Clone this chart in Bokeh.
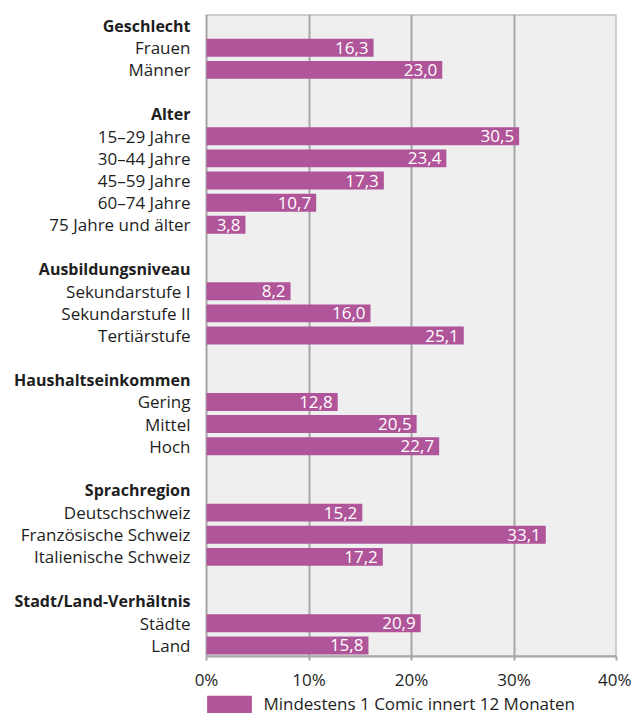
from bokeh.plotting import figure
from bokeh.layouts import column
from bokeh.models import Range1d, FixedTicker, ColumnDataSource, Legend, LegendItem
from bokeh.core.properties import value
from bokeh.embed import file_html
from bokeh.resources import INLINE

# ---- data ----
group_titles = ["Geschlecht", "Alter", "Ausbildungsniveau", "Haushaltseinkommen",
                "Sprachregion", "Stadt/Land-Verhältnis"]
geschlecht = ["Frauen", "Männer"]
geschlecht_vals = [16.3, 23.0]
alter = ["15–29 Jahre", "30–44 Jahre", "45–59 Jahre", "60–74 Jahre", "75 Jahre und älter"]
alter_vals = [30.5, 23.4, 17.3, 10.7, 3.8]
ausbildung = ["Sekundarstufe I", "Sekundarstufe II", "Tertiärstufe"]
ausbildung_vals = [8.2, 16.0, 25.1]
einkommen = ["Gering", "Mittel", "Hoch"]
einkommen_vals = [12.8, 20.5, 22.7]
sprachregion = ["Deutschschweiz", "Französische Schweiz", "Italienische Schweiz"]
sprachregion_vals = [15.2, 33.1, 17.2]
stadtland = ["Städte", "Land"]
stadtland_vals = [20.9, 15.8]
x_ticks = [0, 10, 20, 30, 40]
x_tick_labels = ["0%", "10%", "20%", "30%", "40%"]
series_name = "Mindestens 1 Comic innert 12 Monaten"

FONT = "Open Sans"
BAR = "#b05599"
GRID = "#a6a6a6"
TXT = "#1e1e1e"
FS = "17px"
FS_BOLD = "16px"

groups = [geschlecht, alter, ausbildung, einkommen, sprachregion, stadtland]
group_vals = [geschlecht_vals, alter_vals, ausbildung_vals, einkommen_vals,
              sprachregion_vals, stadtland_vals]

head_rows, head_text = [], []
item_rows, item_text, item_vals = [], [], []
row = 0
for gi, (title, labels, vals) in enumerate(zip(group_titles, groups, group_vals)):
    head_rows.append(row)
    head_text.append(title)
    row += 1
    for lab, v in zip(labels, vals):
        item_rows.append(row)
        item_text.append(lab)
        item_vals.append(v)
        row += 1
    if gi < len(group_titles) - 1:
        row += 1
n_rows = row

items = ColumnDataSource(dict(
    row=item_rows, label=item_text, val=item_vals,
    vtxt=[f"{v:.1f}".replace(".", ",") for v in item_vals]))
heads = ColumnDataSource(dict(row=head_rows, label=head_text))

xmax = x_ticks[-1]
W = 631
p = figure(width=W, height=695,
           x_range=Range1d(-20.1, xmax), y_range=Range1d(n_rows - 0.5, -0.5),
           output_backend="svg", toolbar_location=None,
           y_axis_location=None,
           min_border_left=0, min_border_right=15, min_border_top=14, min_border_bottom=39,
           outline_line_color=None, background_fill_color="white", border_fill_color="white")

p.ygrid.visible = False
p.xgrid.ticker = FixedTicker(ticks=x_ticks[1:-1])
p.xgrid.grid_line_color = GRID
p.xgrid.grid_line_width = 2

# plot-area background
p.quad(left=x_ticks[0], right=xmax, bottom=n_rows - 0.5, top=-0.5,
       fill_color="#efefef", line_color=GRID, line_width=2, level="image")

bars = p.hbar(y="row", left=0, right="val", height=0.81, source=items,
              fill_color=BAR, line_color=None)

p.text(x="val", y="row", text="vtxt", source=items, x_offset=-5,
       text_align="right", text_baseline="middle", text_color="white",
       text_font=value(FONT), text_font_size=FS)
p.text(x=0, y="row", text="label", source=items, x_offset=-16,
       text_align="right", text_baseline="middle", text_color=TXT,
       text_font=value(FONT), text_font_size=FS)
p.text(x=0, y="row", text="label", source=heads, x_offset=-16,
       text_align="right", text_baseline="middle", text_color=TXT,
       text_font=value(FONT), text_font_size=FS_BOLD, text_font_style="bold")

ax = p.xaxis[0]
ax.ticker = FixedTicker(ticks=x_ticks)
ax.major_label_overrides = dict(zip(x_ticks, x_tick_labels))
ax.bounds = (x_ticks[0], xmax)
ax.axis_line_color = GRID
ax.axis_line_width = 2
ax.major_tick_line_color = GRID
ax.major_tick_line_width = 2
ax.major_tick_out = 4
ax.major_tick_in = 0
ax.minor_tick_line_color = None
ax.major_label_standoff = 7
ax.major_label_text_font = FONT
ax.major_label_text_font_size = FS
ax.major_label_text_color = TXT

# ---- legend strip below the chart ----
lg = figure(width=W, height=18, x_range=Range1d(0, xmax), y_range=Range1d(0, 1),
            output_backend="svg", toolbar_location=None,
            x_axis_location=None, y_axis_location=None,
            min_border_left=0, min_border_right=0, min_border_top=0, min_border_bottom=0,
            outline_line_color=None, background_fill_color=None, border_fill_color=None)
lg.grid.visible = False
# the strip only shows the legend entry of the bar series (its bars are not drawn here)
swatch = lg.hbar(y="row", left=0, right="val", height=0.81, source=items,
                 fill_color=BAR, line_color=None, visible=False)
# legend glyphs of area marks are inset by 10% on each side: size the glyph box so the
# visible swatch is 45 x 18 px
legend = Legend(items=[LegendItem(label=series_name, renderers=[swatch])],
                location=(201.4, -2.25), orientation="horizontal",
                glyph_width=56, glyph_height=22, label_height=22, label_standoff=6,
                padding=0, margin=0, spacing=0, click_policy="none",
                border_line_color=None, background_fill_alpha=0,
                label_text_font=FONT, label_text_font_size=FS,
                label_text_color=TXT)
lg.add_layout(legend)

open("out.html", "w").write(file_html(column(p, lg, spacing=0), INLINE))
